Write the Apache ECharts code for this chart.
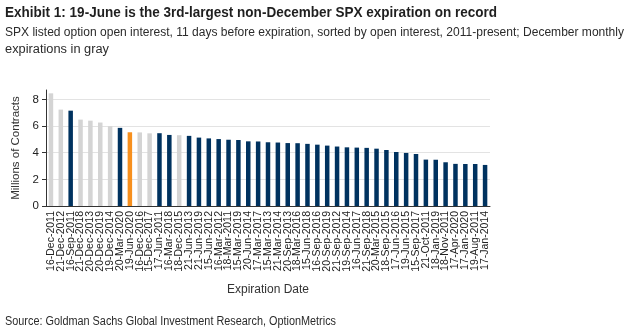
<!DOCTYPE html>
<html>
<head>
<meta charset="utf-8">
<script src="https://cdn.jsdelivr.net/npm/echarts@6/dist/echarts.min.js"></script>
<style>
  html, body { margin: 0; padding: 0; background: #fff; }
  #chart { width: 640px; height: 333px; }
</style>
</head>
<body>
<div id="chart"></div>
<script>
// SPX expirations, sorted by open interest (millions of contracts)
const expirations = [
  '16-Dec-2011', '21-Dec-2012', '16-Sep-2011', '21-Dec-2018', '20-Dec-2013',
  '20-Dec-2019', '19-Dec-2014', '20-Mar-2020', '19-Jun-2020', '16-Dec-2016',
  '15-Dec-2017', '17-Jun-2011', '16-Mar-2018', '18-Dec-2015', '21-Jun-2013',
  '21-Jun-2019', '15-Jun-2012', '16-Mar-2012', '18-Mar-2011', '15-Mar-2019',
  '20-Jun-2014', '17-Mar-2017', '15-Mar-2013', '21-Mar-2014', '20-Sep-2013',
  '18-Mar-2016', '15-Jun-2018', '16-Sep-2016', '20-Sep-2019', '21-Sep-2012',
  '19-Sep-2014', '16-Jun-2017', '21-Sep-2018', '20-Mar-2015', '18-Sep-2015',
  '17-Jun-2016', '19-Jun-2015', '15-Sep-2017', '21-Oct-2011', '18-Jan-2019',
  '18-Nov-2011', '17-Apr-2020', '17-Jan-2020', '19-Aug-2011', '17-Jan-2014'
];
const openInterest = [
  8.45, 7.23, 7.15, 6.48, 6.40, 6.26, 5.98, 5.86, 5.53, 5.52,
  5.45, 5.46, 5.33, 5.31, 5.26, 5.13, 5.07, 5.02, 4.97, 4.95,
  4.85, 4.84, 4.78, 4.76, 4.72, 4.71, 4.66, 4.60, 4.53, 4.46,
  4.40, 4.38, 4.36, 4.30, 4.20, 4.05, 3.98, 3.90, 3.48, 3.47,
  3.28, 3.16, 3.15, 3.15, 3.08
];
const highlighted = '19-Jun-2020';
const yTicks = [0, 2, 4, 6, 8];

const titleText = 'Exhibit 1: 19-June is the 3rd-largest non-December SPX expiration on record';
const subtitleLines = [
  'SPX listed option open interest, 11 days before expiration, sorted by open interest, 2011-present; December monthly',
  'expirations in gray'
];
const sourceText = 'Source: Goldman Sachs Global Investment Research, OptionMetrics';

const NAVY = '#00325f';
const GREY = '#d4d4d4';
const ORANGE = '#f7901e';

function barColor(label) {
  if (label === highlighted) return ORANGE;
  if (label.indexOf('-Dec-') !== -1) return GREY;
  return NAVY;
}

// Header/footer copy is set in a condensed face: draw a regular face and
// squeeze it horizontally to the run length of each line.
const measureCtx = document.createElement('canvas').getContext('2d');
function condensedText(text, font, x, y, runWidth, fill) {
  measureCtx.font = font;
  const w = measureCtx.measureText(text).width;
  return {
    type: 'text',
    x: x, y: y,
    scaleX: runWidth / w,
    style: { text: text, font: font, fill: fill, textVerticalAlign: 'middle', textAlign: 'left' },
    silent: true
  };
}

const headFont = 'bold 15px "Liberation Sans", Arial, sans-serif';
const bodyFont = '12.5px "Liberation Sans", Arial, sans-serif';
const plain = '"Liberation Sans", Arial, sans-serif';

const chart = echarts.init(document.getElementById('chart'), null, { renderer: 'canvas' });

chart.setOption({
  animation: false,
  backgroundColor: '#ffffff',
  graphic: [
    condensedText(titleText, headFont, 5, 13, 492, '#1f1f1f'),
    condensedText(subtitleLines[0], bodyFont, 5, 33, 619, '#2b2b2b'),
    condensedText(subtitleLines[1], bodyFont, 5, 50, 104, '#2b2b2b'),
    condensedText(sourceText, bodyFont, 5, 322, 331, '#2b2b2b')
  ],
  grid: { left: 46, right: 150, top: 90, bottom: 127, containLabel: false },
  xAxis: {
    type: 'category',
    data: expirations,
    name: 'Expiration Date',
    nameLocation: 'middle',
    nameGap: 78,
    nameTextStyle: { fontFamily: plain, fontSize: 12, color: '#333' },
    axisLine: { lineStyle: { color: '#333', width: 1 } },
    axisTick: { alignWithLabel: true, length: 4, lineStyle: { color: '#333' } },
    axisLabel: {
      interval: 0, rotate: 90, margin: 5,
      fontFamily: plain, fontSize: 10.5, color: '#222'
    }
  },
  yAxis: {
    type: 'value',
    min: yTicks[0],
    max: 8.7,
    interval: yTicks[1] - yTicks[0],
    name: 'Millions of Contracts',
    nameLocation: 'middle',
    nameRotate: 90,
    nameGap: 24,
    nameTextStyle: { fontFamily: plain, fontSize: 11.5, color: '#333' },
    axisLine: { show: true, lineStyle: { color: '#333', width: 1 } },
    axisTick: { show: true, length: 4, lineStyle: { color: '#333' } },
    axisLabel: { fontFamily: plain, fontSize: 11.5, color: '#222', margin: 7, showMaxLabel: false },
    splitLine: { show: true, showMaxLine: false, lineStyle: { color: '#e3e3e3', width: 1 } }
  },
  series: [{
    type: 'bar',
    data: openInterest.map((v, i) => ({ value: v, itemStyle: { color: barColor(expirations[i]) } })),
    barWidth: 4.5
  }]
});
</script>
</body>
</html>
